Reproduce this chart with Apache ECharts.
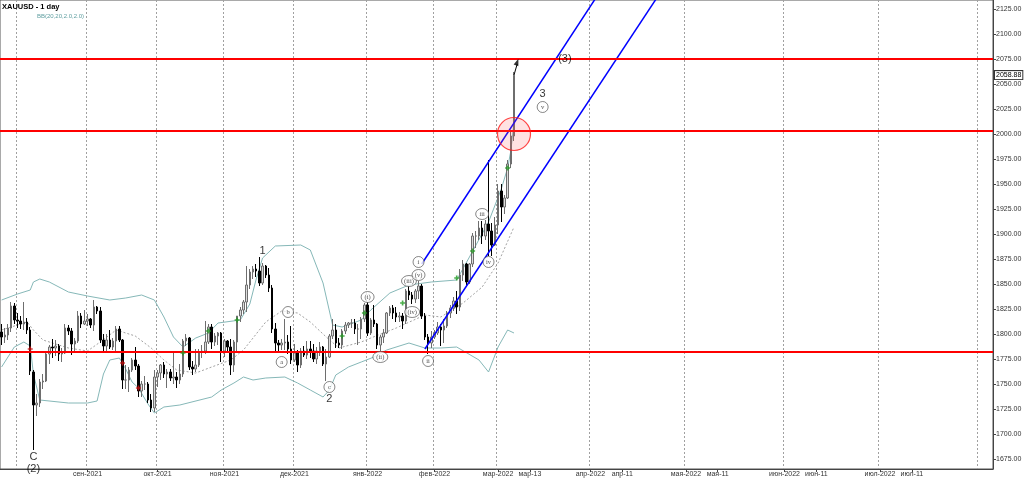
<!DOCTYPE html>
<html><head><meta charset="utf-8">
<script src="https://cdn.jsdelivr.net/npm/echarts@6/dist/echarts.min.js"></script>
<style>html,body{margin:0;padding:0;background:#fff}#c{width:1024px;height:479px}</style>
</head><body><div id="c"></div>
<script>
// ---- categories: trading days Jul 26 2021 .. Mar 8 2022, then calendar days (future area) ----
const categories = [];
(function(){
  const ymd = d => d.toISOString().slice(0,10);
  for (let d = new Date(Date.UTC(2021,6,26)); d <= new Date(Date.UTC(2022,2,8)); d.setUTCDate(d.getUTCDate()+1)) {
    const w = d.getUTCDay(); if (w !== 0 && w !== 6) categories.push(ymd(d));
  }
  for (let d = new Date(Date.UTC(2022,2,9)); d <= new Date(Date.UTC(2022,7,5)); d.setUTCDate(d.getUTCDate()+1)) categories.push(ymd(d));
})();

// ---- OHLC (Jul, Aug, Sep, Oct, Nov, Dec, Jan, Feb, Mar) ----
const open = [
 1802,1797,1799,1806,1828,
 1814,1813,1810,1812,1804,1762,1729,1731,1752,1753,1780,1787,1786,1788,1780,1781,1806,1803,1790,1793,1818,1810,
 1813,1815,1809,1827,1823,1794,1788,1794,1787,1793,1805,1794,1754,1754,1764,1774,1768,1743,1750,1750,1734,1726,
 1757,1761,1769,1760,1762,1756,1757,1754,1760,1793,1796,1767,1765,1769,1782,1783,1792,1807,1792,1798,1801,
 1783,1793,1787,1769,1792,1818,1824,1832,1849,1862,1865,1863,1851,1868,1859,1846,1805,1791,1789,1791,1792,1785,
 1774,1781,1769,1783,1779,1785,1783,1775,1783,1787,1770,1777,1798,1804,1791,1789,1803,1809,1811,1811,1805,1805,1815,
 1829,1801,1814,1810,1789,1797,1801,1821,1826,1821,1817,1818,1813,1843,1839,1835,1843,1848,1818,1797,1791,
 1797,1801,1807,1804,1808,1821,1826,1833,1827,1859,1870,1852,1870,1898,1898,1906,1898,1910,1903,1889,
 1909,1943,1927,1936,1970,1998];
const high = [
 1810,1806,1810,1832,1831,
 1821,1818,1832,1816,1807,1764,1740,1755,1760,1781,1789,1795,1794,1790,1786,1810,1809,1806,1796,1823,1821,1824,
 1820,1816,1834,1828,1827,1800,1800,1804,1796,1808,1808,1795,1769,1767,1776,1787,1770,1753,1758,1752,1740,1764,
 1764,1770,1772,1765,1765,1781,1762,1770,1795,1800,1797,1773,1785,1785,1789,1813,1810,1810,1801,1802,1802,
 1795,1794,1795,1794,1818,1827,1834,1868,1865,1868,1870,1877,1871,1869,1866,1849,1811,1794,1795,1815,1799,1808,
 1790,1784,1786,1788,1793,1793,1790,1787,1792,1788,1785,1800,1815,1810,1796,1805,1812,1812,1815,1815,1810,1817,1831,
 1832,1816,1829,1811,1799,1805,1822,1828,1829,1827,1822,1821,1845,1848,1842,1845,1853,1850,1821,1800,1803,
 1804,1812,1810,1815,1823,1829,1837,1843,1865,1874,1871,1871,1901,1903,1913,1913,1914,1974,1911,1917,
 1950,1950,1939,1974,2002,2062];
const low = [
 1789,1791,1794,1802,1810,
 1806,1805,1804,1800,1759,1684,1718,1727,1745,1752,1770,1776,1778,1773,1772,1780,1799,1779,1781,1791,1806,1809,
 1808,1806,1803,1820,1791,1783,1783,1785,1784,1781,1792,1745,1745,1742,1762,1764,1737,1737,1744,1731,1722,1722,
 1747,1754,1756,1746,1753,1750,1746,1750,1757,1788,1764,1759,1762,1767,1776,1780,1790,1785,1788,1789,1772,
 1777,1783,1759,1762,1782,1812,1820,1822,1845,1855,1857,1848,1849,1856,1842,1801,1782,1781,1784,1784,1780,1770,
 1772,1762,1766,1777,1775,1776,1772,1770,1778,1768,1753,1776,1795,1786,1786,1785,1800,1806,1806,1800,1789,1795,1812,
 1798,1799,1807,1785,1782,1791,1800,1818,1815,1812,1812,1805,1810,1834,1830,1831,1835,1815,1794,1780,1786,
 1795,1799,1788,1791,1806,1816,1823,1820,1823,1853,1849,1850,1867,1886,1894,1890,1894,1878,1878,1888,
 1900,1912,1920,1935,1966,1993];
const close = [
 1797,1799,1806,1828,1814,
 1813,1810,1812,1804,1763,1729,1731,1752,1753,1780,1787,1786,1788,1780,1781,1806,1803,1790,1793,1818,1810,1813,
 1815,1809,1827,1823,1794,1788,1794,1787,1793,1805,1794,1754,1754,1764,1774,1768,1743,1750,1750,1734,1726,1757,
 1761,1769,1760,1762,1756,1757,1754,1760,1793,1796,1767,1765,1769,1782,1783,1792,1807,1792,1798,1801,1783,
 1793,1787,1769,1792,1818,1824,1832,1849,1862,1865,1863,1851,1868,1859,1846,1805,1791,1789,1791,1792,1785,1774,
 1781,1769,1783,1779,1785,1783,1775,1783,1787,1770,1777,1798,1804,1791,1789,1803,1809,1811,1811,1805,1805,1815,1829,
 1801,1814,1810,1789,1797,1801,1821,1826,1821,1817,1818,1813,1843,1839,1835,1843,1848,1818,1797,1791,1797,
 1801,1807,1804,1808,1821,1826,1833,1827,1859,1870,1852,1870,1898,1898,1906,1898,1910,1903,1889,1909,
 1943,1927,1936,1970,1998,2058.88];
const lastPrice = 2058.88;

// ---- Bollinger bands: [bar index, price] ----
const bbUpper = [[0,1834],[5,1840],[9,1844],[10,1852],[12,1855],[15,1852],[21,1842],[27,1838],[34,1834],[39,1836],[44,1839],[48,1834],[51,1817],[54,1797],[57,1787],[61,1796],[65,1801],[68,1811],[75,1814],[78,1830],[80,1855],[82,1876],[86,1888],[94,1889],[97,1884],[101,1851],[104,1809],[107,1807],[113,1814],[116,1824],[122,1841],[128,1849],[135,1852],[143,1854],[147,1877],[153,1912],[157,1945],[159,1966],[160,1983],[161,2012]];
const bbMiddle = [[0,1804],[3,1807],[8,1812],[10,1804],[13,1794],[21,1786],[27,1783],[31,1792],[36,1804],[42,1798],[47,1786],[51,1774],[55,1764],[61,1761],[66,1767],[72,1774],[76,1784],[80,1800],[83,1812],[88,1823],[93,1821],[97,1812],[102,1797],[106,1786],[113,1792],[116,1796],[124,1806],[133,1819],[138,1817],[145,1831],[151,1847],[156,1871],[161,1907]];
const bbLower = [[0,1767],[4,1787],[7,1792],[9,1788],[10,1760],[12,1734],[21,1731],[27,1731],[30,1733],[32,1760],[34,1774],[37,1776],[39,1765],[41,1752],[43,1746],[46,1730],[48,1721],[51,1727],[56,1729],[66,1737],[69,1744],[73,1751],[76,1757],[79,1754],[83,1756],[89,1757],[93,1751],[97,1744],[101,1737],[103,1744],[105,1759],[109,1767],[113,1772],[117,1777],[121,1784],[128,1791],[133,1786],[138,1786],[143,1787],[150,1774],[153,1762],[156,1787],[159,1804],[161,1801]];

// ---- drawn objects ----
const levels = [2075, 2003, 1782];
const channelUpper = [[132,1870],[205,2225]];
const channelLower = [[133,1785],[210,2156]];
const zoneCircle = [[161,2000]];
const arrowLine = [[161,2059],[162,2070]];
const arrowHead = [[162,2072]];
const greenMarks = [[57,1781],[65,1803],[74,1814],[107,1798],[114,1821],[126,1831],[143,1856],[148,1883],[159,1966]];
const redMarks = [[9,1785],[38,1771],[43,1746]];
const waveLabels = [['C',10,1677],['(2)',10,1665],['1',82,1883],['2',103,1735],['3',170,2040],['(3)',177,2075]];
const circledLabels = [['a',88,1772],['b',90,1822],['c',103,1747],['(i)',115,1837],['(ii)',119,1777],['(iii)',128,1853],['(iv)',129,1822],['(v)',131,1859],['i',131,1872],['ii',134,1773],['iii',151,1920],['iv',153,1872],['v',170,2027]];

// ---- axis labels ----
const yTicks = [1675,1700,1725,1750,1775,1800,1825,1850,1875,1900,1925,1950,1975,2000,2025,2050,2075,2100,2125];
const xTickLabels = {
 '2021-09-01':'сен-2021','2021-10-01':'окт-2021','2021-11-01':'ноя-2021','2021-12-01':'дек-2021',
 '2022-01-03':'янв-2022','2022-02-01':'фев-2022','2022-03-01':'мар-2022','2022-03-13':'мар-13',
 '2022-04-01':'апр-2022','2022-04-11':'апр-11','2022-05-01':'мая-2022','2022-05-11':'мая-11',
 '2022-06-01':'июн-2022','2022-06-11':'июн-11','2022-07-01':'июл-2022','2022-07-11':'июл-11'};
const gridDates = ['2021-08-02','2021-09-01','2021-10-01','2021-11-01','2021-12-01','2022-01-03','2022-02-01','2022-03-01','2022-04-01','2022-05-01','2022-06-01','2022-07-01','2022-08-01'];

const FONT = 'Liberation Sans, Arial, sans-serif';
const candleData = open.map((o,i)=>[o, close[i], low[i], high[i]]);

const option = {
  animation:false,
  backgroundColor:'#fff',
  title:[
    {text:'XAUUSD - 1 day', left:2, top:3, padding:0, textStyle:{fontSize:7.5, fontWeight:'bold', color:'#000', fontFamily:FONT}},
    {text:'BB(20,20,2.0,2.0)', left:37, top:13, padding:0, textStyle:{fontSize:6, fontWeight:'normal', color:'#5f9ea0', fontFamily:FONT}}
  ],
  grid:{left:0, right:31, top:0, bottom:10, show:true, borderColor:'#555', borderWidth:1, containLabel:false, outerBoundsMode:'none'},
  xAxis:{
    type:'category', data:categories, boundaryGap:true,
    axisLine:{lineStyle:{color:'#444'}},
    axisTick:{show:true, length:3, alignWithLabel:true, interval:(i,v)=>!!xTickLabels[v], lineStyle:{color:'#444'}},
    axisLabel:{interval:(i,v)=>!!xTickLabels[v], formatter:v=>xTickLabels[v]||'', fontSize:7, color:'#333', margin:2, fontFamily:FONT},
    splitLine:{show:true, interval:(i,v)=>gridDates.indexOf(v)>=0, lineStyle:{type:[2,2], color:'#a0a0a0', width:1}}
  },
  yAxis:[
    {type:'value', position:'right', min:1665, max:2134, scale:true,
     axisLine:{show:true, lineStyle:{color:'#444'}},
     axisTick:{show:true, length:3, customValues:yTicks, lineStyle:{color:'#444'}},
     axisLabel:{customValues:yTicks, formatter:v=>v.toFixed(2), fontSize:7, color:'#333', margin:3, fontFamily:FONT},
     splitLine:{show:false}},
    {type:'value', position:'right', min:1665, max:2134, scale:true,
     axisLine:{show:false}, axisTick:{show:false}, splitLine:{show:false},
     axisLabel:{customValues:[lastPrice], formatter:v=>v.toFixed(2), fontSize:7, color:'#000', margin:2, fontFamily:FONT,
       backgroundColor:'#fff', borderColor:'#333', borderWidth:1, padding:[1,1,0,1]}}
  ],
  series:[
    {type:'line', name:'bbU', data:bbUpper, symbol:'none', z:2, lineStyle:{color:'#86b8b8', width:1}},
    {type:'line', name:'bbL', data:bbLower, symbol:'none', z:2, lineStyle:{color:'#86b8b8', width:1}},
    {type:'line', name:'bbM', data:bbMiddle, symbol:'none', z:2, lineStyle:{color:'#8a8a8a', width:0.8, type:[2,2]}},
    {type:'candlestick', name:'XAUUSD', data:candleData, barWidth:2, z:3,
     itemStyle:{color:'#dcdcdc', color0:'#000', borderColor:'#6e6e6e', borderColor0:'#000', borderWidth:1}},
    {type:'line', data:channelUpper, symbol:'none', z:4, lineStyle:{color:'#0000ff', width:1.5}},
    {type:'line', data:channelLower, symbol:'none', z:4, lineStyle:{color:'#0000ff', width:1.5}},
    {type:'scatter', data:zoneCircle, symbol:'circle', symbolSize:33, z:5,
     itemStyle:{color:'rgba(255,90,90,0.22)', borderColor:'#ff1a1a', borderWidth:1.2},
     markLine:{silent:true, symbol:'none', label:{show:false}, lineStyle:{color:'#ff0000', width:2, type:'solid'},
       data:levels.map(v=>({yAxis:v}))}},
    {type:'line', data:arrowLine, symbol:'none', z:6, lineStyle:{color:'#000', width:1}},
    {type:'scatter', data:arrowHead, symbol:'triangle', symbolSize:[5,7], symbolRotate:-20, z:6, itemStyle:{color:'#000'}},
    {type:'scatter', data:greenMarks, symbol:'path://M2 0H4V2H6V4H4V6H2V4H0V2H2Z', symbolSize:5, z:6, itemStyle:{color:'#1f9a1f'}},
    {type:'scatter', data:redMarks, symbol:'path://M2 0H4V2H6V4H4V6H2V4H0V2H2Z', symbolSize:5, z:6, itemStyle:{color:'#d01010'}},
    {type:'scatter', z:7, symbol:'circle', symbolSize:2, clip:false, itemStyle:{color:'rgba(0,0,0,0)'},
     data:waveLabels.map(d=>({value:[d[1],d[2]], name:d[0]})),
     label:{show:true, position:'inside', formatter:p=>p.name, fontSize:11, color:'#000', fontFamily:FONT}},
    {type:'scatter', z:7, symbol:'circle',
     data:circledLabels.map(d=>({value:[d[1],d[2]], name:d[0], symbolSize: d[0].length>=4 ? [15,11] : (d[0].length==3 ? [13,11] : 11)})),
     itemStyle:{color:'#fff', borderColor:'#444', borderWidth:0.8},
     label:{show:true, position:'inside', formatter:p=>p.name, fontSize:6.5, color:'#222', fontFamily:'Liberation Serif, serif'}}
  ]
};
const chart = echarts.init(document.getElementById('c'), null, {renderer:'canvas'});
chart.setOption(option);
</script></body></html>
